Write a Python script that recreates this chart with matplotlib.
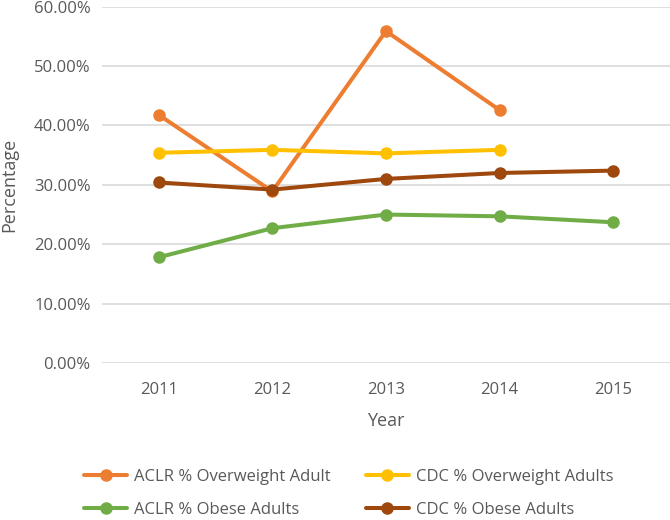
import numpy as np
import matplotlib.pyplot as plt
from matplotlib.ticker import PercentFormatter

plt.rcParams['font.family'] = ['Open Sans', 'DejaVu Sans']

years = ["2011", "2012", "2013", "2014", "2015"]
aclr_overweight = [41.8, 28.9, 55.9, 42.6]
cdc_overweight = [35.4, 35.9, 35.3, 35.9]
aclr_obese = [17.8, 22.7, 25.0, 24.7, 23.7]
cdc_obese = [30.4, 29.2, 31.0, 32.0, 32.4]

gray = "#595959"

fig = plt.figure(figsize=(6.7, 5.2), dpi=100)
ax = fig.add_axes([0.152, 0.302, 0.848, 0.685])

x = np.arange(len(years))
style = dict(linewidth=2.9, marker="o", markersize=8, solid_capstyle="round")
l1, = ax.plot(x[:4], aclr_overweight, color="#ED7D31", label="ACLR % Overweight Adult", **style)
l2, = ax.plot(x[:4], cdc_overweight, color="#FFC000", label="CDC % Overweight Adults", **style)
l3, = ax.plot(x, aclr_obese, color="#70AD47", label="ACLR % Obese Adults", **style)
l4, = ax.plot(x, cdc_obese, color="#9E480E", label="CDC % Obese Adults", **style)

ax.set_xlim(-0.5, 4.5)
ax.set_ylim(0, 60)
ax.set_yticks(np.arange(0, 61, 10))
ax.yaxis.set_major_formatter(PercentFormatter(decimals=2))
ax.set_xticks(x)
ax.set_xticklabels(years)
ax.grid(axis="y", color="#D9D9D9", linewidth=1.2)
ax.set_axisbelow(True)
for s in ax.spines.values():
    s.set_visible(False)
ax.tick_params(length=0, colors=gray, labelsize=12)
ax.tick_params(axis="x", pad=14)
ax.tick_params(axis="y", pad=8)

ax.set_xlabel("Year", color=gray, fontsize=13, labelpad=10)
ax.set_ylabel("Percentage", color=gray, fontsize=13, va="center")
ax.yaxis.set_label_coords(-0.163, 0.5)

fig.legend(handles=[l1, l3, l2, l4], ncol=2, loc="upper left",
           bbox_to_anchor=(0.103, 0.127), frameon=False,
           fontsize=12, labelcolor=gray, handlelength=2.6,
           columnspacing=2.1, labelspacing=1.0, handletextpad=0.4)

fig.savefig("out.png", dpi=100)
